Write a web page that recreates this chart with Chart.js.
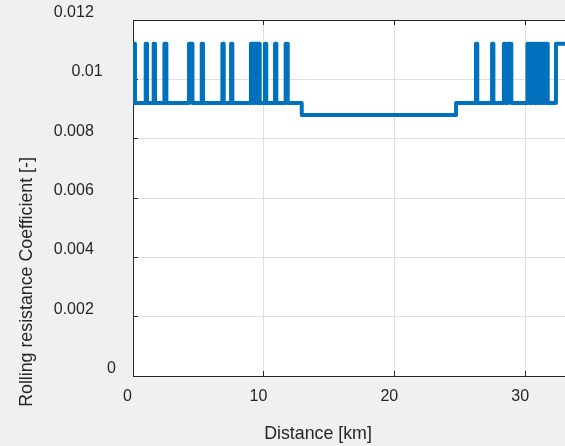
<!DOCTYPE html>
<html>
<head>
<meta charset="utf-8">
<script src="https://cdn.jsdelivr.net/npm/chart.js@4.4.1/dist/chart.umd.min.js"></script>
<style>
  html, body { margin: 0; padding: 0; background: #f0f0f0; overflow: hidden; }
  #wrap { position: relative; width: 565px; height: 446px; }
</style>
</head>
<body>
<div id="wrap"><canvas id="chart"></canvas></div>
<script>
// levels of the rolling resistance coefficient
const HIGH = 0.0112;
const LOW = 0.0092;
const LOWER = 0.0088;

// points where the coefficient changes (km), value holds until the next point
const distanceKm = [
  0, 0, 0.15,
  0.97, 1.07, 1.58, 1.68, 2.40, 2.55,
  4.28, 4.54, 5.25, 5.35, 6.83, 6.93, 7.49, 7.59,
  9.01, 9.2, 9.32, 9.48, 9.58, 9.68,
  10.08, 10.18, 10.85, 10.95, 11.66, 11.82,
  12.89,
  24.68,
  26.2, 26.3, 27.43, 27.53,
  28.33, 28.45, 28.65, 28.9,
  30.13, 30.3, 30.45, 30.6, 30.75, 30.9, 31.05, 31.2, 31.35, 31.5, 31.6, 31.68,
  32.31, 33
];
const rollingCoef = [
  LOW, HIGH, LOW,
  HIGH, LOW, HIGH, LOW, HIGH, LOW,
  HIGH, LOW, HIGH, LOW, HIGH, LOW, HIGH, LOW,
  HIGH, LOW, HIGH, LOW, HIGH, LOW,
  HIGH, LOW, HIGH, LOW, HIGH, LOW,
  LOWER,
  LOW,
  HIGH, LOW, HIGH, LOW,
  HIGH, LOW, HIGH, LOW,
  HIGH, LOW, HIGH, LOW, HIGH, LOW, HIGH, LOW, HIGH, LOW, HIGH, LOW,
  HIGH, HIGH
];

const xTicks = [0, 10, 20, 30];
const yTicks = [0, 0.002, 0.004, 0.006, 0.008, 0.01, 0.012];
const yTickLabels = ['0', '0.002', '0.004', '0.006', '0.008', '0.01', '0.012'];
const xTitle = 'Distance [km]';
const yTitle = 'Rolling resistance Coefficient [-]';

const FONT = '"Liberation Sans", Arial, Helvetica, sans-serif';
const TEXT = '#262626';
const GRID = '#dfdfdf';

const plotBg = {
  id: 'plotBg',
  beforeDraw(chart) {
    const a = chart.chartArea;
    chart.ctx.save();
    chart.ctx.fillStyle = '#ffffff';
    chart.ctx.fillRect(a.left, a.top, a.right - a.left, a.bottom - a.top);
    chart.ctx.restore();
  }
};

const axisTitles = {
  id: 'axisTitles',
  afterDraw(chart) {
    const ctx = chart.ctx;
    ctx.save();
    ctx.fillStyle = TEXT;
    ctx.font = '17.8px ' + FONT;
    ctx.textAlign = 'center';
    ctx.textBaseline = 'alphabetic';
    ctx.fillText(xTitle, 318, 439);
    ctx.translate(32, 282);
    ctx.rotate(-Math.PI / 2);
    ctx.fillText(yTitle, 0, 0);
    ctx.restore();
  }
};

new Chart(document.getElementById('chart'), {
  type: 'line',
  data: {
    datasets: [{
      data: distanceKm.map((d, i) => ({ x: d, y: rollingCoef[i] })),
      borderColor: '#0072bd',
      borderWidth: 4,
      borderJoinStyle: 'round',
      stepped: 'before',
      pointRadius: 0,
      fill: false
    }]
  },
  options: {
    responsive: true,
    maintainAspectRatio: false,
    animation: false,
    layout: { padding: { top: 20, left: 0, right: 0, bottom: 0 } },
    plugins: { legend: { display: false }, tooltip: { enabled: false } },
    scales: {
      x: {
        type: 'linear',
        position: 'bottom',
        min: 0,
        max: 33,
        afterBuildTicks: (axis) => { axis.ticks = xTicks.map(v => ({ value: v })); },
        afterFit: (axis) => { axis.height = 70; },
        grid: { color: GRID, tickColor: TEXT, tickLength: -5 },
        border: { color: TEXT, width: 1 },
        ticks: {
          color: TEXT,
          font: { family: FONT, size: 16 },
          padding: 16,
          labelOffset: -5.5,
          maxRotation: 0,
          autoSkip: false
        }
      },
      xTop: {
        type: 'linear',
        position: 'top',
        min: 0,
        max: 33,
        afterBuildTicks: (axis) => { axis.ticks = xTicks.map(v => ({ value: v })); },
        afterFit: (axis) => { axis.height = 0; },
        grid: { drawOnChartArea: false, tickColor: TEXT, tickLength: -5 },
        border: { color: TEXT, width: 1 },
        ticks: { display: false }
      },
      y: {
        type: 'linear',
        position: 'left',
        min: 0,
        max: 0.012,
        afterBuildTicks: (axis) => { axis.ticks = yTicks.map(v => ({ value: v })); },
        afterFit: (axis) => {
          axis.width = 133;
          axis.paddingTop = 0;
          axis.paddingBottom = 0;
        },
        grid: {
          color: (c) => (c.index === yTicks.length - 1 ? TEXT : GRID),
          tickColor: TEXT,
          tickLength: -5
        },
        border: { color: TEXT, width: 1 },
        ticks: {
          color: TEXT,
          font: { family: FONT, size: 16 },
          padding: 22,
          labelOffset: -7.5,
          autoSkip: false,
          callback: (v, i) => {
            const s = yTickLabels[i];
            return s + ' '.repeat(Math.round(s.length * 1.1) - 1);
          }
        }
      }
    }
  },
  plugins: [plotBg, axisTitles]
});
</script>
</body>
</html>
